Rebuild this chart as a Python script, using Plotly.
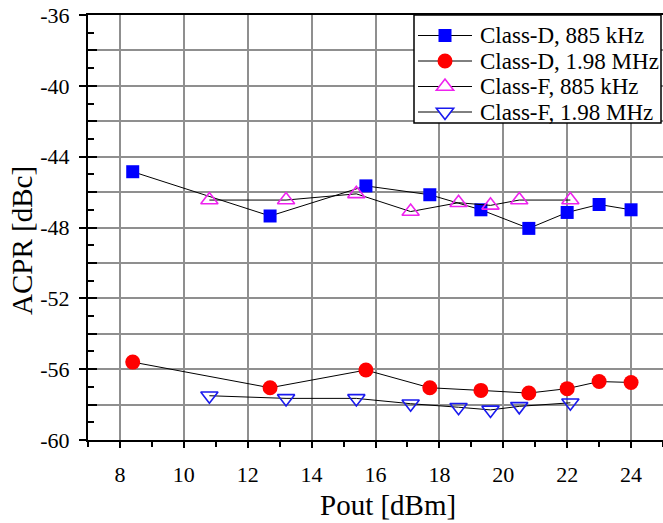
import plotly.graph_objects as go

# Output power (dBm) and ACPR (dBc) for each amplifier class / channel offset
pout_d = [8.4, 12.7, 15.7, 17.7, 19.3, 20.8, 22.0, 23.0, 24.0]
acpr_d_885k = [-44.85, -47.35, -45.65, -46.15, -47.0, -48.05, -47.15, -46.7, -47.0]
acpr_d_198m = [-55.6, -57.05, -56.05, -57.05, -57.2, -57.35, -57.1, -56.7, -56.75]

pout_f = [10.8, 13.2, 15.4, 17.1, 18.6, 19.6, 20.5, 22.1]
acpr_f_885k = [-46.45, -46.45, -46.1, -47.1, -46.6, -46.75, -46.45, -46.45]
acpr_f_198m = [-57.5, -57.65, -57.65, -57.95, -58.15, -58.3, -58.1, -57.9]

series_names = ["Class-D, 885 kHz", "Class-D, 1.98 MHz",
                "Class-F, 885 kHz", "Class-F, 1.98 MHz"]

x_tickvals = [8, 10, 12, 14, 16, 18, 20, 22, 24]
x_ticktext = ["8", "10", "12", "14", "16", "18", "20", "22", "24"]
y_tickvals = [-60, -58, -56, -54, -52, -50, -48, -46, -44, -42, -40, -38, -36]
y_ticktext = ["-60", "", "-56", "", "-52", "", "-48", "", "-44", "", "-40", "", "-36"]
y_labelled = [-60, -56, -52, -48, -44, -40, -36]

FONT = "Liberation Serif, Times New Roman, serif"
W, H = 663, 523
M_L, M_R, M_T, M_B = 88, 0, 15, 83
X_RANGE = [7, 25]
Y_RANGE = [-60, -36]

BLUE, RED, MAGENTA, NAVY = "#0000ff", "#ff0000", "#ee22ee", "#1a1aee"

# marker styles per series
styles = [
    dict(symbol="square", size=13, color=BLUE, line=dict(width=0)),
    dict(symbol="circle", size=15, color=RED, line=dict(width=0)),
    dict(symbol="triangle-up-open", size=15, color=MAGENTA, line=dict(width=1.6)),
    dict(symbol="triangle-down-open", size=15, color=NAVY, line=dict(width=1.6)),
]
series = [(pout_d, acpr_d_885k), (pout_d, acpr_d_198m),
          (pout_f, acpr_f_885k), (pout_f, acpr_f_198m)]
line_style = dict(color="black", width=1)

fig = go.Figure()
for (xs, ys), name, st in zip(series, series_names, styles):
    fig.add_trace(go.Scatter(x=xs, y=ys, name=name, mode="lines+markers",
                             line=line_style, marker=st, showlegend=False))

# An invisible overlay axis pair whose units are screen pixels; the legend
# is laid out on it with shapes (drawn above the grid) and annotations.
fig.add_trace(go.Scatter(x=[None], y=[None], xaxis="x2", yaxis="y2",
                         showlegend=False, hoverinfo="skip"))
# Extra y axis that only carries the outward part of the labelled ticks
fig.add_trace(go.Scatter(x=[None], y=[None], xaxis="x", yaxis="y3",
                         showlegend=False, hoverinfo="skip"))

def py(v):
    """screen-pixel row -> overlay y value (overlay y grows upward)"""
    return H - v

leg_l, leg_r, leg_t, leg_b = 414, 661, 15, 123
fig.add_shape(type="rect", xref="x2", yref="y2",
              x0=leg_l, x1=leg_r, y0=py(leg_b), y1=py(leg_t),
              line=dict(color="black", width=1.5), fillcolor="white", layer="above")

leg_rows = [35.5, 61, 86.5, 112]
seg_x0, seg_x1, txt_x = 418, 472, 478
cx = (seg_x0 + seg_x1) / 2


def tri_path(x, y, up, size):
    r = size / 2
    half = r * 2 / 3 ** 0.5
    if up:
        return (f"M{x - half},{y - r / 2} L{x + half},{y - r / 2} "
                f"L{x},{y + r} Z")
    return (f"M{x - half},{y + r / 2} L{x + half},{y + r / 2} "
            f"L{x},{y - r} Z")


for row, name, st in zip(leg_rows, series_names, styles):
    yc = py(row)
    fig.add_shape(type="line", xref="x2", yref="y2", x0=seg_x0, x1=seg_x1,
                  y0=yc, y1=yc, line=dict(color="black", width=1), layer="above")
    s = st["size"]
    if st["symbol"] == "square":
        fig.add_shape(type="rect", xref="x2", yref="y2",
                      x0=cx - s / 2, x1=cx + s / 2, y0=yc - s / 2, y1=yc + s / 2,
                      fillcolor=st["color"], line=dict(width=0), layer="above")
    elif st["symbol"] == "circle":
        fig.add_shape(type="circle", xref="x2", yref="y2",
                      x0=cx - s / 2, x1=cx + s / 2, y0=yc - s / 2, y1=yc + s / 2,
                      fillcolor=st["color"], line=dict(width=0), layer="above")
    else:
        fig.add_shape(type="path", xref="x2", yref="y2",
                      path=tri_path(cx, yc, st["symbol"].startswith("triangle-up"), s),
                      fillcolor="white", line=dict(color=st["color"], width=1.6),
                      layer="above")
    fig.add_annotation(x=txt_x, y=yc, xref="x2", yref="y2", text=name,
                       showarrow=False, xanchor="left", yanchor="middle",
                       font=dict(family=FONT, size=23, color="black"))

# axis titles
fig.add_annotation(x=(388 - M_L) / (W - M_L - M_R), y=-(505 - (H - M_B)) / (H - M_T - M_B),
                   xref="paper", yref="paper", text="Pout [dBm]", showarrow=False,
                   xanchor="center", yanchor="middle",
                   font=dict(family=FONT, size=29, color="black"))
fig.add_annotation(x=-(M_L - 22) / (W - M_L - M_R), y=(H - M_B - 241) / (H - M_T - M_B),
                   xref="paper", yref="paper", text="ACPR [dBc]", showarrow=False,
                   textangle=-90, xanchor="center", yanchor="middle",
                   font=dict(family=FONT, size=29, color="black"))

fig.update_layout(
    width=W, height=H,
    margin=dict(l=M_L, r=M_R, t=M_T, b=M_B),
    paper_bgcolor="white", plot_bgcolor="white",
    font=dict(family=FONT, size=22, color="black"),
    showlegend=False,
    xaxis=dict(
        range=X_RANGE, tickmode="array", tickvals=x_tickvals, ticktext=x_ticktext,
        ticks="outside", ticklen=6, tickwidth=2, tickcolor="black",
        ticklabelstandoff=8,
        showline=True, linecolor="black", linewidth=2, mirror=True,
        showgrid=True, gridcolor="#8f8f8f", gridwidth=1.5, zeroline=False,
        minor=dict(dtick=1, tick0=0, ticks="outside", ticklen=5,
                   tickwidth=2, tickcolor="black", showgrid=False),
    ),
    yaxis=dict(
        range=Y_RANGE, tickmode="array", tickvals=y_tickvals, ticktext=y_ticktext,
        ticks="inside", ticklen=9, tickwidth=2, tickcolor="black",
        ticklabelstandoff=12,
        showline=True, linecolor="black", linewidth=2, mirror=False,
        showgrid=True, gridcolor="#8f8f8f", gridwidth=1.5, zeroline=False,
        minor=dict(dtick=1, tick0=0, ticks="inside", ticklen=6,
                   tickwidth=2, tickcolor="black", showgrid=False),
    ),
    yaxis3=dict(
        overlaying="y", anchor="x", side="left", range=Y_RANGE,
        tickmode="array", tickvals=y_labelled, showticklabels=False,
        ticks="outside", ticklen=8, tickwidth=2, tickcolor="black",
        showline=False, showgrid=False, zeroline=False, fixedrange=True,
    ),
    xaxis2=dict(overlaying="x", range=[M_L, W - M_R], visible=False, fixedrange=True),
    yaxis2=dict(overlaying="y", range=[M_B, H - M_T], visible=False, fixedrange=True),
)

fig.write_html("out.html")
